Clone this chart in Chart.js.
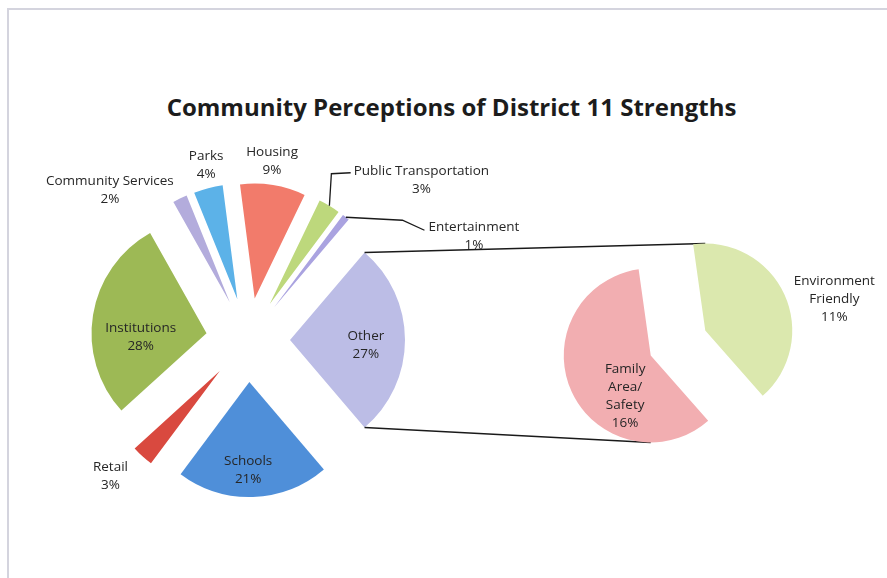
<!DOCTYPE html>
<html>
<head>
<meta charset="utf-8">
<title>Community Perceptions of District 11 Strengths</title>
<script src="https://cdn.jsdelivr.net/npm/chart.js@4.4.0/dist/chart.umd.min.js"></script>
<style>
    body { margin: 0; background: #fff; }
    #wrap { position: relative; width: 887px; height: 578px; overflow: hidden; }
    #frame {
        position: absolute; left: 7px; top: 8px; right: -10px; bottom: -10px;
        border-top: 2px solid #d4d4de; border-left: 2px solid #d4d4de;
    }
    #title {
        position: absolute; left: 8px; width: 887px; top: 90px;
        text-align: center; font: bold 24px "Open Sans", sans-serif; color: #1c1c1c;
    }
    canvas { position: absolute; left: 0; top: 0; }
</style>
</head>
<body>
<div id="wrap">
    <div id="frame"></div>
    <div id="title">Community Perceptions of District 11 Strengths</div>
    <canvas id="mainPie" width="887" height="578"></canvas>
    <canvas id="detailPie" width="887" height="578"></canvas>
</div>
<script>
// Second pie: the breakdown of "Other"
const detailNames = ['Environment\nFriendly', 'Family\nArea/\nSafety'];
const detailValues = [11, 16];

// First pie ("Other" is the sum of the second pie)
const mainNames = ['Other', 'Schools', 'Retail', 'Institutions', 'Community Services',
    'Parks', 'Housing', 'Public Transportation', 'Entertainment'];
const mainValues = [detailValues.reduce((a, b) => a + b, 0), 21, 3, 28, 2, 4, 9, 3, 1];

const mainColors = ['#bcbde6', '#4f8fd9', '#d9493f', '#9db955', '#b3acdc',
    '#5cb2e8', '#f27b6b', '#bdd87c', '#aaa3e0'];
const detailColors = ['#dbe8ae', '#f2aeb1'];

// label placement: [fraction of radius along the slice middle, dx, dy]
const mainLabelPos = [
    [0.66, 0, 5], [0.77, -4, 0], [1, -32, 20], [0.58, 0, 15], [1, -70, -8],
    [1, -2, -23], [1, -1, -24], [1, 92, -26], [1, 128, 19]
];
const detailLabelPos = [[1, 50, 5], [0.45, 10, 24]];
const LINE_H = 18;

const total = values => values.reduce((a, b) => a + b, 0);

// pushes every slice away from the centre along its middle angle
const explodePlugin = {
    id: 'explode',
    beforeDatasetsDraw(chart, args, opts) {
        const area = chart.chartArea;
        const cx = (area.left + area.right) / 2;
        const cy = (area.top + area.bottom) / 2;
        chart.getDatasetMeta(0).data.forEach(arc => {
            const mid = (arc.startAngle + arc.endAngle) / 2;
            arc.x = cx + Math.cos(mid) * opts.distance;
            arc.y = cy + Math.sin(mid) * opts.distance;
        });
    }
};

function sliceLabels(names, values, layout, leaders) {
    return {
        id: 'sliceLabels',
        afterDatasetsDraw(chart) {
            const ctx = chart.ctx;
            ctx.save();
            ctx.font = '13.5px "Open Sans", sans-serif';
            ctx.fillStyle = '#262626';
            ctx.strokeStyle = '#1a1a1a';
            ctx.lineWidth = 1.3;
            ctx.textAlign = 'center';
            ctx.textBaseline = 'middle';
            chart.getDatasetMeta(0).data.forEach((arc, i) => {
                const mid = (arc.startAngle + arc.endAngle) / 2;
                const [k, dx, dy] = layout[i];
                const r = arc.outerRadius * k;
                const x = arc.x + Math.cos(mid) * r + dx;
                const y = arc.y + Math.sin(mid) * r + dy;
                const lines = names[i].split('\n').concat(values[i] + '%');
                const top = y - (lines.length - 1) * LINE_H / 2;
                lines.forEach((t, j) => ctx.fillText(t, x, top + j * LINE_H));

                const leader = leaders && leaders[i];
                if (leader) {
                    const tipX = arc.x + Math.cos(mid) * arc.outerRadius;
                    const tipY = arc.y + Math.sin(mid) * arc.outerRadius;
                    const left = x - ctx.measureText(lines[0]).width / 2;
                    ctx.beginPath();
                    ctx.moveTo(tipX, tipY);
                    if (leader === 'elbow') {
                        ctx.lineTo(tipX + 2, top + 3);
                        ctx.lineTo(left - 3, top + 2);
                    } else {
                        ctx.lineTo(left - 26, tipY + 3);
                        ctx.lineTo(left - 4, top + 3);
                    }
                    ctx.stroke();
                }
            });
            ctx.restore();
        }
    };
}

function pieConfig(names, values, colors, opts) {
    return {
        type: 'pie',
        data: {
            labels: names,
            datasets: [{
                data: values,
                backgroundColor: colors,
                borderWidth: 0
            }]
        },
        options: {
            responsive: false,
            animation: false,
            events: [],
            rotation: opts.rotation,
            radius: opts.radius,
            layout: { padding: opts.padding },
            plugins: {
                legend: { display: false },
                tooltip: { enabled: false },
                explode: { distance: opts.explode }
            }
        },
        plugins: opts.plugins
    };
}

// "Other" sits centred on 3 o'clock
const mainRotation = 90 - mainValues[0] / total(mainValues) * 180;

const mainChart = new Chart(document.getElementById('mainPie'), pieConfig(
    mainNames, mainValues, mainColors, {
        rotation: mainRotation,
        radius: 115,
        explode: 42,
        padding: { left: 0, top: 102, right: 391, bottom: 0 },
        plugins: [explodePlugin, sliceLabels(mainNames, mainValues, mainLabelPos,
            { 7: 'elbow', 8: 'bend' })]
    }));

// lines joining the "Other" slice with the top and bottom of the second pie
const connectorPlugin = {
    id: 'connectors',
    beforeDatasetsDraw(chart) {
        const other = mainChart.getDatasetMeta(0).data[0];
        const arcs = chart.getDatasetMeta(0).data;
        const edgePoint = angle => {
            const norm = a => ((a % (2 * Math.PI)) + 2 * Math.PI) % (2 * Math.PI);
            const arc = arcs.find(a => {
                const s = norm(angle - a.startAngle);
                return s <= a.endAngle - a.startAngle;
            }) || arcs[0];
            return [arc.x + Math.cos(angle) * arc.outerRadius, arc.y + Math.sin(angle) * arc.outerRadius];
        };
        const ends = [other.startAngle, other.endAngle].map(a =>
            [other.x + Math.cos(a) * other.outerRadius, other.y + Math.sin(a) * other.outerRadius]);
        const targets = [edgePoint(-Math.PI / 2), edgePoint(Math.PI / 2)];
        const ctx = chart.ctx;
        ctx.save();
        ctx.strokeStyle = '#1a1a1a';
        ctx.lineWidth = 1.4;
        ends.forEach((p, i) => {
            ctx.beginPath();
            ctx.moveTo(p[0], p[1]);
            ctx.lineTo(targets[i][0], targets[i][1]);
            ctx.stroke();
        });
        ctx.restore();
    }
};

new Chart(document.getElementById('detailPie'), pieConfig(
    detailNames, detailValues, detailColors, {
        rotation: -8,
        radius: 87,
        explode: 30,
        padding: { left: 469, top: 108, right: 0, bottom: 0 },
        plugins: [explodePlugin, connectorPlugin,
            sliceLabels(detailNames, detailValues, detailLabelPos, null)]
    }));
</script>
</body>
</html>
